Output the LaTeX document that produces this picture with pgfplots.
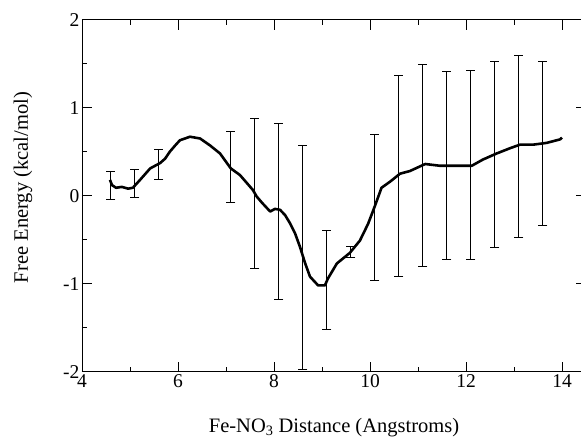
\documentclass[border=0pt]{standalone}
\usepackage{pgfplots}
\pgfplotsset{compat=1.18}
\usepackage{fontspec}
\setmainfont{Liberation Serif}
\begin{document}
\begin{tikzpicture}
\begin{axis}[
  name=ax,
  scale only axis,
  width=504bp, height=352bp,
  xmin=4, xmax=14.5, ymin=-2, ymax=2,
  xtick={4,6,8,10,12,14}, ytick={-2,-1,0,1,2},
  minor x tick num=1, minor y tick num=1,
  tick align=inside,
  major tick length=10bp, minor tick length=5bp,
  axis line style={line width=1pt},
  every tick/.style={black, line width=1pt},
  /pgf/number format/assume math mode=true,
  tick label style={font=\fontsize{19.5bp}{22bp}\selectfont},
  yticklabel style={xshift=1bp},
  xticklabel style={yshift=1bp},
  label style={font=\fontsize{20.5bp}{24bp}\selectfont},
  xlabel={Fe-NO\textsubscript{3} Distance (Angstroms)},
  ylabel={Free Energy (kcal/mol)},
  xlabel style={at={(axis description cs:0.5,-0.159)}, anchor=center},
  ylabel style={at={(axis description cs:-0.117,0.523)}, anchor=center, rotate=0},
  clip=false,
]
\addplot[black, line width=2.6pt, line join=round, mark=none] coordinates {
(4.583,0.18) (4.625,0.12) (4.71,0.09) (4.83,0.10) (4.96,0.08) (5.06,0.09)
(5.21,0.18) (5.42,0.31) (5.625,0.37) (5.73,0.42) (5.83,0.50) (5.94,0.57)
(6.04,0.63) (6.25,0.67) (6.46,0.65) (6.67,0.57) (6.875,0.48) (7.10,0.31)
(7.29,0.235) (7.56,0.065) (7.64,-0.01) (7.75,-0.08) (7.92,-0.18) (8.02,-0.15)
(8.125,-0.16) (8.23,-0.22) (8.33,-0.31) (8.44,-0.43) (8.54,-0.58) (8.65,-0.77)
(8.75,-0.92) (8.92,-1.02) (9.06,-1.02) (9.125,-0.94) (9.31,-0.77) (9.58,-0.65)
(9.79,-0.51) (9.96,-0.32) (10.10,-0.12) (10.24,0.09) (10.42,0.16) (10.625,0.25)
(10.83,0.28) (11.15,0.36) (11.46,0.34) (11.875,0.34) (12.12,0.34) (12.35,0.41)
(12.64,0.48) (12.92,0.54) (13.125,0.58) (13.40,0.58) (13.68,0.60) (13.96,0.64)
(14.0,0.66)
};
\addplot[draw=none, mark=none,
  error bars/.cd, y dir=both, y explicit,
  error bar style={draw=black, line width=1pt},
  error mark options={draw=black, rotate=90, mark size=4.5bp, line width=1pt}]
  table[x=x, y=y, y error=e] {
x y e
4.6 0.115 0.155
5.1 0.14 0.16
5.6 0.355 0.175
7.1 0.325 0.405
7.6 0.0275 0.8525
8.1 -0.18 1.0
8.6 -0.697 1.273
9.1 -0.9575 0.5575
9.6 -0.64 0.06
10.1 -0.13 0.83
10.6 0.225 1.145
11.1 0.34 1.15
11.6 0.34 1.07
12.1 0.345 1.075
12.6 0.465 1.055
13.1 0.56 1.03
13.6 0.59 0.93
};
\end{axis}
\pgfresetboundingbox
\path[use as bounding box] ([xshift=-82bp,yshift=-70.3bp]ax.south west) rectangle ([xshift=-5bp,yshift=19.7bp]ax.north east);
\end{tikzpicture}
\end{document}
